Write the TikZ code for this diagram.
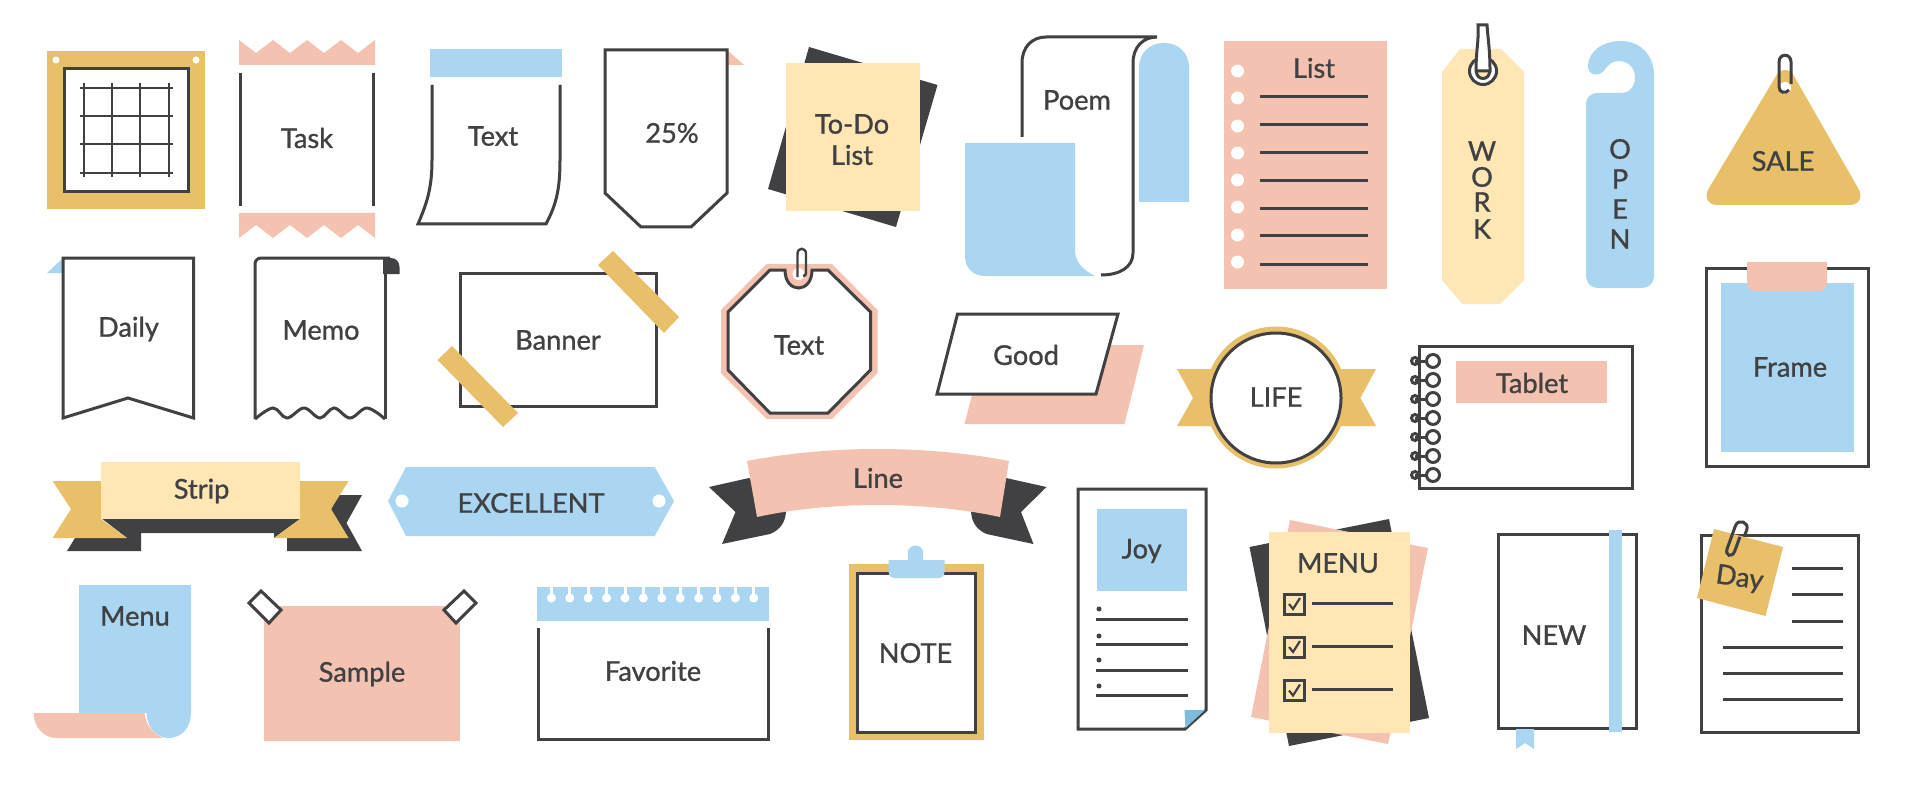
\documentclass[tikz,border=0pt]{standalone}
\usepackage{fontspec}
\setmainfont{Lato}[RawFeature={embolden=1}]
\definecolor{ink}{HTML}{414042}
\definecolor{peach}{HTML}{F3C2B0}
\definecolor{sky}{HTML}{AAD6F1}
\definecolor{cream}{HTML}{FEE6B5}
\definecolor{gold}{HTML}{E8C06A}
\definecolor{deepsky}{HTML}{7DBCDC}
\begin{document}
\begin{tikzpicture}
  [x=0.5pt,y=-0.5pt,
   ln/.style={draw=ink,line width=1.5pt},
   lbl/.style={text=ink,inner sep=0pt,font=\fontsize{13.6}{16}\selectfont},
   thinln/.style={draw=ink,line width=1.2pt},
   hole/.style={fill=white}]

  \useasboundingbox (0,0) rectangle (1920,786);
  \fill[white] (0,0) rectangle (1920,786);

  \fill[gold] (47,51) rectangle (205,209);
  \fill[white] (64,69) rectangle (188,192);
  \draw[ln] (64,69) rectangle (188,192);
  \fill[hole] (56,60) circle (3.5);
  \fill[hole] (196,60) circle (3.5);
  \foreach \gx in {84,112,140,169} {\draw[thinln] (\gx,83) -- (\gx,177);}
  \foreach \gy in {88,116,144,173} {\draw[thinln] (80,\gy) -- (173,\gy);}

  \fill[peach] (239,40) -- (256,53) -- (273,40) -- (290,53) -- (307,40) -- (324,53) -- (341,40) -- (358,53) -- (375,40) -- (375,65) -- (239,65) -- cycle;
  \fill[peach] (239,238) -- (256,225) -- (273,238) -- (290,225) -- (307,238) -- (324,225) -- (341,238) -- (358,225) -- (375,238) -- (375,213) -- (239,213) -- cycle;
  \draw[ln] (240,73) -- (240,206);
  \draw[ln] (373.5,73) -- (373.5,206);
  \node[lbl] (task) at (307,138) {Task};

  \fill[sky] (430,49) rectangle (562,77);
  \draw[ln] (432,85) -- (432,160) .. controls (432,190) and (426,205) .. (418,224) -- (546,224) .. controls (556,205) and (560,190) .. (560,160) -- (560,85);
  \node[lbl] (text1) at (493,136) {Text};

  \fill[peach] (727,50) -- (744,65) -- (727,65) -- cycle;
  \draw[ln] (605,50) -- (727,50) -- (727,193) -- (691,227) -- (641,227) -- (605,193) -- cycle;
  \node[lbl] (percent) at (672,133) {25\%};

  \fill[ink] (809,47) -- (937.5,85) -- (896,227) -- (768,189) -- cycle;
  \fill[cream] (786,63) rectangle (920,211);
  \node[lbl] (todo) at (852,124) {To-Do};
  \node[lbl] (todolist) at (852,155) {List};

  \draw[ln] (1022,137) -- (1022,63) .. controls (1022,47) and (1032,37) .. (1046,37) -- (1157,37) .. controls (1143,37) and (1133,47) .. (1133,63) -- (1133,253) .. controls (1133,267) and (1120,275) .. (1101,275);
  \fill[sky] (1139,202) -- (1139,68) .. controls (1139,52) and (1150,43) .. (1164,43) .. controls (1178,43) and (1189,52) .. (1189,68) -- (1189,202) -- cycle;
  \fill[sky] (965,143) -- (1075,143) -- (1075,250) .. controls (1075,262) and (1083,270) .. (1095,276) -- (985,276) .. controls (973,276) and (965,268) .. (965,256) -- cycle;
  \node[lbl] (poem) at (1077,100) {Poem};

  \fill[peach] (1224,41) rectangle (1386.5,289);
  \foreach \dy in {71,98,126,153,180,207,235,262} {\fill[hole] (1237.5,\dy) circle (6.5);}
  \foreach \ly in {97,125,153,181,209,236,264} {\draw[ln] (1260,\ly) -- (1368,\ly);}
  \node[lbl] (list) at (1314,68) {List};

  \fill[cream] (1460,49) -- (1501,49) -- (1524,72) -- (1524,280) -- (1500,304) -- (1462.5,304) -- (1442,280) -- (1442,72) -- cycle;
  \draw[ln,fill=white] (1483,71) circle (13.5);
  \draw[ln,fill=cream] (1483,72) circle (6.5);
  \draw[ln,fill=white] (1478,25) -- (1487,25) .. controls (1488,40) and (1490,50) .. (1490,71) -- (1476,71) .. controls (1476,50) and (1479,40) .. (1478,25) -- cycle;
  \node[lbl] (w) at (1482,151) {W};
  \node[lbl] (o) at (1482,177) {O};
  \node[lbl] (r) at (1482,202) {R};
  \node[lbl] (k) at (1482,229) {K};

  \fill[sky] (1654,75) .. controls (1654,55) and (1640,41) .. (1621,41) .. controls (1602,41) and (1588,52) .. (1588,66) .. controls (1588,76) and (1600,78) .. (1606,68) .. controls (1609,64) and (1613,61) .. (1619,61) .. controls (1628,61) and (1635,68) .. (1635,77) .. controls (1635,87) and (1629,93) .. (1621,93) -- (1598,93) .. controls (1590,93) and (1586,98) .. (1586,104) -- (1586,276) .. controls (1586,283) and (1591,288) .. (1598,288) -- (1642,288) .. controls (1649,288) and (1654,283) .. (1654,276) -- cycle;
  \node[lbl] (o2) at (1620,149) {O};
  \node[lbl] (p) at (1620,179) {P};
  \node[lbl] (e) at (1620,209) {E};
  \node[lbl] (n) at (1620,239) {N};

  \fill[gold] (1776,76) .. controls (1780,68) and (1790,68) .. (1794,76) -- (1858,188) .. controls (1864,198) and (1858,205) .. (1850,205) -- (1717,205) .. controls (1709,205) and (1703,198) .. (1709,188) -- cycle;
  \fill[hole] (1785,88) circle (6);
  \draw[ln] (1791,84) -- (1791,62) .. controls (1791,53) and (1779,53) .. (1779,62) -- (1779,87) .. controls (1779,93) and (1786,94) .. (1789,90);
  \node[lbl] (sale) at (1783,161) {SALE};

  \draw[ln] (1706.5,268) rectangle (1868,466);
  \fill[sky] (1721,283) rectangle (1853.5,452);
  \fill[peach,rounded corners=4pt] (1747,250) rectangle (1827,291);
  \fill[white] (1740,245) rectangle (1835,262);
  \node[lbl] (frame) at (1790,367) {Frame};

  \draw[ln] (1419,346) rectangle (1632,488);
  \fill[peach] (1456,361) rectangle (1606.5,403);
  \foreach \ry in {361,380,399,418,437,456,475} {
    \draw[ln] (1415,\ry) circle (3.5);
    \draw[ln] (1415,\ry) -- (1427,\ry);
    \draw[ln,fill=white] (1433,\ry) circle (6.5);
  }
  \node[lbl] (tablet) at (1532,383) {Tablet};

  \fill[peach] (964.5,424) -- (1124.5,424) -- (1144,345) -- (985,345) -- cycle;
  \draw[ln,fill=white] (957.5,314) -- (1118,314) -- (1096,394) -- (937,394) -- cycle;
  \node[lbl] (good) at (1026,355) {Good};

  \fill[peach] (766.5,264) -- (832,264) -- (877.5,310) -- (877.5,373) -- (832,419) -- (766.5,419) -- (721,373) -- (721,310) -- cycle;
  \draw[ln,fill=white] (770,270) -- (785,270) .. controls (785,294) and (812,294) .. (812,270) -- (828,270) -- (870.5,312) -- (870.5,370) -- (828,413) -- (770,413) -- (728,370) -- (728,312) -- cycle;
  \fill[peach] (787.5,270) .. controls (787.5,291) and (809.5,291) .. (809.5,270) -- cycle;
  \fill[hole] (798.5,274) circle (6);
  \draw[thinln] (803,276) .. controls (805,276) and (806,275) .. (806,273) -- (806,254) .. controls (806,247) and (797.5,247) .. (797.5,254) -- (797.5,277);
  \node[lbl] (text2) at (799,345) {Text};

  \fill[sky] (47,273) -- (63,258) -- (63,273) -- cycle;
  \draw[ln] (63,258) -- (193.5,258) -- (193.5,418) -- (128,398) -- (63,418) -- cycle;
  \node[lbl] (daily) at (128.5,329) {Daily};

  \fill[ink] (383,274) -- (383,258) -- (391,258) .. controls (396,258) and (399.5,262) .. (399.5,267) -- (399.5,274) -- cycle;
  \draw[ln,rounded corners=3pt] (255,419) -- (255,258) -- (390,258);
  \draw[ln] (385,262) -- (385,419);
  \draw[ln] plot[smooth,tension=.6] coordinates {(255,419) (273,408) (287,418) (304,408) (320,418) (334,408) (350,418) (367,408) (385,419)};
  \node[lbl] (memo) at (321,330) {Memo};

  \draw[ln] (460,273) rectangle (656,406);
  \fill[gold] (613,251) -- (679,317) -- (664,333) -- (598,265) -- cycle;
  \fill[gold] (452,346) -- (518,413) -- (503,427) -- (437.5,360) -- cycle;
  \node[lbl] (banner) at (558,340) {Banner};

  \fill[ink] (67,551) -- (141,551) -- (141,533) -- (274,533) -- (274,538) -- (300,519) -- (102.4,519) -- (127,538) -- (75,538) -- cycle;
  \fill[ink] (287,533) -- (287,551) -- (362,551) -- (346.5,523) -- (362,495) -- (338,495) -- (320,533) -- cycle;
  \fill[gold] (52.6,481) -- (101,481) -- (101,519) -- (127,538) -- (52.6,538) -- (71,509) -- cycle;
  \fill[gold] (300,481) -- (348.6,481) -- (331,509) -- (348.6,538) -- (274,538) -- (300,519) -- cycle;
  \fill[cream] (101,462) rectangle (300,519);
  \node[lbl] (strip) at (201.6,491) {Strip};

  \fill[sky] (406,467) -- (654.7,467) -- (674,501) -- (654.7,536) -- (406,536) -- (388,501) -- cycle;
  \fill[hole] (402,501) circle (6.5);
  \fill[hole] (659,501) circle (6.5);
  \node[lbl] (excellent) at (531,503) {EXCELLENT};

  \fill[ink] (749,478) -- (709,487) -- (735.5,512) -- (722,544) -- (770,534) .. controls (780,530) and (786,522) .. (786,510) -- cycle;
  \fill[ink] (1006,478) -- (1046.5,487) -- (1021,512) -- (1033.5,544) -- (986.5,534) .. controls (977,530) and (971,522) .. (971,510) -- cycle;
  \fill[peach] (747,461) .. controls (830,445) and (926,445) .. (1009,461) -- (1000,517) .. controls (926,501) and (830,501) .. (757,517) -- cycle;
  \node[lbl] (line) at (878,478) {Line};

  \fill[sky] (79,585) -- (191,585) -- (191,713) .. controls (191,728) and (181,738) .. (169,738) .. controls (157,738) and (147,728) .. (146.5,713) -- (79,713) -- cycle;
  \fill[peach] (33.5,713) -- (144.5,713) .. controls (146,726) and (153,733) .. (163,738) -- (57,738) .. controls (44,738) and (34,728) .. (33.5,713) -- cycle;
  \node[lbl] (menu1) at (135,616) {Menu};

  \fill[peach] (264,606) rectangle (460,741);
  \draw[ln,fill=white] (261,591) -- (281,610) -- (269,623) -- (249,603) -- cycle;
  \draw[ln,fill=white] (464,591) -- (476,603) -- (456,623) -- (444,610) -- cycle;
  \node[lbl] (sample) at (362,674) {Sample};

  \fill[sky] (537,587) rectangle (769,621);
  \foreach \i in {0,...,11} {
    \fill[hole] ({551.4+18.4*\i-1.5},587) rectangle ++(3,10);
    \fill[hole] ({551.4+18.4*\i},598) circle (4.5);
  }
  \draw[ln] (538,628) -- (538,739) -- (768,739) -- (768,628);
  \node[lbl] (favorite) at (653,671) {Favorite};

  \fill[gold] (849,564) rectangle (984,740);
  \fill[white] (857,573) rectangle (975.5,732);
  \draw[ln] (857,573) rectangle (975.5,732);
  \fill[sky,rounded corners=3pt] (888.6,550) rectangle (944.5,578);
  \fill[white] (880,545) rectangle (908,560);
  \fill[white] (923,545) rectangle (950,560);
  \fill[sky] (908,560) -- (908,553) .. controls (908,543) and (923,543) .. (923,553) -- (923,560) -- cycle;
  \node[lbl] (note) at (915.5,653) {NOTE};

  \draw[ln] (1078,489) -- (1206,489) -- (1206,710) -- (1185,729) -- (1078,729) -- cycle;
  \fill[deepsky] (1184.5,710) -- (1205,710) -- (1185.5,728) -- cycle;
  \fill[sky] (1097,509) rectangle (1186.5,591);
  \foreach \by in {609,636,660,686} {\fill[ink] (1099,\by) circle (2.5);}
  \foreach \ly in {619,644,670,695} {\draw[ln] (1096,\ly) -- (1188,\ly);}
  \node[lbl] (joy) at (1141.6,551) {Joy};

  \fill[ink] (1249.5,547) -- (1389,519) -- (1429,718) -- (1289,746) -- cycle;
  \fill[peach] (1290,520) -- (1428,548) -- (1388,744) -- (1251,717) -- cycle;
  \fill[cream] (1269,532) rectangle (1409.5,733);
  \node[lbl] (menu2) at (1338,563) {MENU};
  \foreach \cy in {604,647,690.5} {
    \draw[ln] (1284,\cy-10) rectangle (1304.5,\cy+10);
    \draw[ln,line width=1.1pt] (1289,\cy) -- (1293,\cy+5) -- (1300,\cy-6);
    \draw[ln] (1312,\cy-1) -- (1392.6,\cy-1);
  }

  \draw[ln] (1498,534) rectangle (1636,728);
  \fill[sky] (1609,530) rectangle (1622,732);
  \fill[sky] (1516,729) -- (1534,729) -- (1534,749) -- (1525,743) -- (1516,749) -- cycle;
  \node[lbl] (new) at (1554,635) {NEW};

  \draw[ln] (1701,535) rectangle (1858,732);
  \foreach \ly in {568,594,621} {\draw[ln] (1792,\ly) -- (1843,\ly);}
  \foreach \ly in {647,673,699} {\draw[ln] (1723,\ly) -- (1843,\ly);}
  \fill[gold] (1714,529) -- (1783,547) -- (1765.5,616) -- (1697,598) -- cycle;
  \begin{scope}[shift={(1737,539)},rotate=-20]
    \draw[ln] (6,-5) -- (6,-12) .. controls (6,-20) and (-6,-20) .. (-6,-12) -- (-6,12) .. controls (-6,20) and (2,20) .. (2,12) -- (2,-3);
  \end{scope}
  \node[lbl,rotate=-8] (day) at (1739.5,579) {Day};

  \fill[gold] (1177,369) -- (1376,369) -- (1360.4,398) -- (1376,426) -- (1177,426) -- (1193,398) -- cycle;
  \fill[gold] (1276,397.5) circle (71);
  \draw[ln,fill=white] (1276,398) circle (65);
  \node[lbl] (life) at (1276,397) {LIFE};
\end{tikzpicture}
\end{document}
